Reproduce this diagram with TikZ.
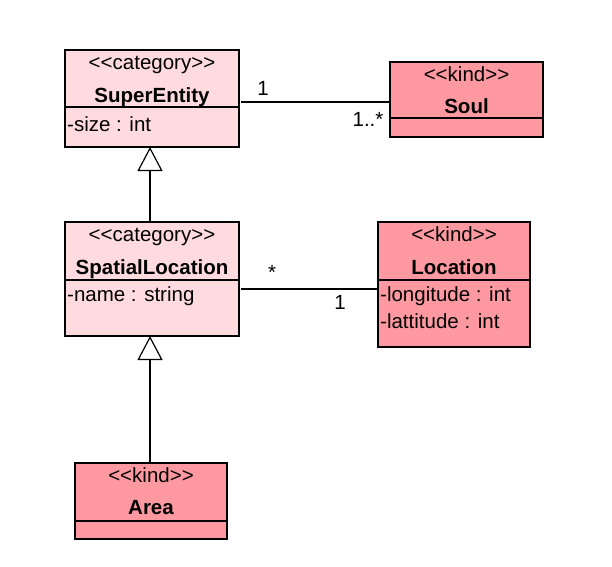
\documentclass[tikz,border=0pt]{standalone}
\usepackage{fontspec}
\setmainfont{Liberation Sans}
\usetikzlibrary{arrows.meta,calc}
\definecolor{catfill}{RGB}{255,218,222}
\definecolor{kindfill}{RGB}{255,153,161}
\tikzset{
  classbox/.style={draw=black, line width=1.2pt, inner sep=0pt, outer sep=0pt},
  catbox/.style={classbox, fill=catfill},
  kindbox/.style={classbox, fill=kindfill},
  stereo/.style={anchor=base, inner sep=0pt, font=\fontsize{20.5}{24}\selectfont},
  cname/.style={anchor=base, inner sep=0pt, font=\fontsize{20.5}{24}\selectfont\bfseries},
  attr/.style={anchor=base west, inner sep=0pt, font=\fontsize{20.5}{24}\selectfont},
  mult/.style={inner sep=0pt, font=\fontsize{20.5}{24}\selectfont},
  assoc/.style={draw=black, line width=1.2pt},
  gen/.style={draw=black, line width=1.2pt, -{Triangle[width=25pt,length=24pt,fill=white,line width=1.2pt]}},
  divider/.style={draw=black, line width=1.2pt}
}
\begin{document}
\begin{tikzpicture}[x=1pt,y=-1pt]
\useasboundingbox (0,0) rectangle (612,566);
% SuperEntity
\node[catbox, minimum width=174pt, minimum height=97pt] (se) at (152,98.5) {};
\draw[divider] ($(se.north west)+(0,57)$) -- ($(se.north east)+(0,57)$);
\node[stereo] (se-st) at (152,69) {<{}<category>{}>};
\node[cname] (se-nm) at (152,102) {SuperEntity};
\node[attr] (se-a1) at (67,131) {-size : int};
% Soul
\node[kindbox, minimum width=153pt, minimum height=75pt] (soul) at (466.5,99.5) {};
\draw[divider] ($(soul.north west)+(0,56)$) -- ($(soul.north east)+(0,56)$);
\node[stereo] (soul-st) at (466.5,81) {<{}<kind>{}>};
\node[cname] (soul-nm) at (466.5,113) {Soul};
% SpatialLocation
\node[catbox, minimum width=174pt, minimum height=114pt] (sl) at (152,279) {};
\draw[divider] ($(sl.north west)+(0,58)$) -- ($(sl.north east)+(0,58)$);
\node[stereo] (sl-st) at (152,241) {<{}<category>{}>};
\node[cname] (sl-nm) at (152,274) {SpatialLocation};
\node[attr] (sl-a1) at (67,301) {-name : string};
% Location
\node[kindbox, minimum width=152pt, minimum height=125pt] (loc) at (454,284.5) {};
\draw[divider] ($(loc.north west)+(0,58)$) -- ($(loc.north east)+(0,58)$);
\node[stereo] (loc-st) at (454,241) {<{}<kind>{}>};
\node[cname] (loc-nm) at (454,274) {Location};
\node[attr] (loc-a1) at (380,301) {-longitude : int};
\node[attr] (loc-a2) at (380,328) {-lattitude : int};
% Area
\node[kindbox, minimum width=152pt, minimum height=76pt] (area) at (151,501) {};
\draw[divider] ($(area.north west)+(0,58)$) -- ($(area.north east)+(0,58)$);
\node[stereo] (area-st) at (151,482) {<{}<kind>{}>};
\node[cname] (area-nm) at (151,514) {Area};
% associations
\coordinate (r1) at (300,102);
\coordinate (r2) at (300,289);
\draw[assoc] ([xshift=2pt]se.east |- r1) -- (soul.west |- r1);
\node[mult] (m1) at (263,88) {1};
\node[mult] (m2) at (368,119) {1..*};
\draw[assoc] ([xshift=2pt]sl.east |- r2) -- (loc.west |- r2);
\node[mult] (m3) at (272,272) {*};
\node[mult] (m4) at (340,302) {1};
% generalizations
\coordinate (g1) at (150,0);
\draw[gen] (g1 |- area.north) -- (g1 |- sl.south);
\draw[gen] (g1 |- sl.north) -- (g1 |- se.south);
\end{tikzpicture}
\end{document}
